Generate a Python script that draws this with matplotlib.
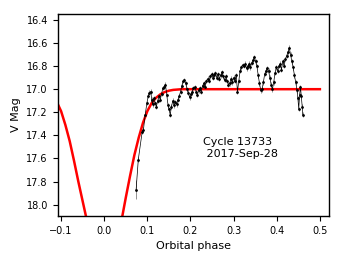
import matplotlib
matplotlib.use("Agg")
import matplotlib.pyplot as plt

# model light curve
model_phase = [-0.11, -0.10, -0.09, -0.08, -0.07, -0.06, -0.05, -0.04, -0.03, -0.02, -0.01,
               0.00, 0.01, 0.02, 0.03, 0.04, 0.05, 0.06, 0.07, 0.08, 0.09, 0.10, 0.11,
               0.12, 0.13, 0.14, 0.15, 0.16, 0.18, 0.50]
model_mag = [17.11, 17.19, 17.31, 17.45, 17.62, 17.80, 17.97, 18.14, 18.34, 18.48, 18.58,
             18.62, 18.58, 18.48, 18.34, 18.14, 17.94, 17.75, 17.57, 17.42, 17.29, 17.19, 17.12,
             17.075, 17.045, 17.025, 17.013, 17.006, 17.00, 17.00]

# observed magnitudes
obs_phase = [0.074, 0.079, 0.088, 0.091, 0.095, 0.099, 0.102, 0.105, 0.108, 0.110,
             0.112, 0.115, 0.118, 0.121, 0.124, 0.127, 0.130, 0.133, 0.136, 0.139,
             0.142, 0.145, 0.148, 0.150, 0.153, 0.156, 0.159, 0.162, 0.165, 0.168,
             0.171, 0.174, 0.177, 0.180, 0.183, 0.186, 0.189, 0.192, 0.195, 0.198,
             0.201, 0.204, 0.207, 0.210, 0.213, 0.216, 0.219, 0.222, 0.225, 0.228,
             0.231, 0.234, 0.237, 0.240, 0.243, 0.246, 0.249, 0.252, 0.255, 0.258,
             0.261, 0.264, 0.267, 0.270, 0.273, 0.276, 0.279, 0.282, 0.285, 0.288,
             0.291, 0.294, 0.297, 0.300, 0.303, 0.306, 0.309, 0.312, 0.315, 0.318,
             0.321, 0.324, 0.327, 0.330, 0.333, 0.336, 0.339, 0.342, 0.345, 0.348,
             0.351, 0.354, 0.357, 0.360, 0.363, 0.366, 0.369, 0.372, 0.375, 0.378,
             0.381, 0.384, 0.387, 0.390, 0.393, 0.396, 0.399, 0.402, 0.405, 0.408,
             0.411, 0.414, 0.417, 0.420, 0.423, 0.426, 0.429, 0.432, 0.435, 0.438,
             0.441, 0.444, 0.447, 0.449, 0.451, 0.453, 0.455, 0.457, 0.459, 0.460]
obs_mag = [17.87, 17.61, 17.37, 17.35, 17.22, 17.12, 17.06, 17.03, 17.02, 17.09,
           17.13, 17.08, 17.12, 17.15, 17.10, 17.06, 17.09, 17.04, 16.99, 16.98,
           16.96, 17.05, 17.14, 17.17, 17.22, 17.15, 17.10, 17.14, 17.11, 17.13,
           17.09, 17.06, 17.02, 16.97, 16.93, 16.92, 16.95, 17.00, 17.03, 17.07,
           17.04, 17.02, 16.99, 16.98, 17.02, 17.05, 17.01, 16.99, 17.02, 16.97,
           16.95, 16.98, 16.93, 16.91, 16.93, 16.89, 16.87, 16.90, 16.88, 16.86,
           16.90, 16.87, 16.91, 16.88, 16.85, 16.89, 16.92, 16.89, 16.93, 16.96,
           16.95, 16.91, 16.94, 16.90, 16.93, 16.88, 17.02, 16.93, 16.84, 16.81,
           16.79, 16.80, 16.78, 16.82, 16.80, 16.78, 16.81, 16.77, 16.75, 16.72,
           16.76, 16.80, 16.88, 16.95, 17.01, 17.00, 16.94, 16.87, 16.84, 16.82,
           16.84, 16.90, 16.96, 17.00, 16.94, 16.86, 16.81, 16.84, 16.80, 16.78,
           16.83, 16.76, 16.80, 16.74, 16.71, 16.68, 16.64, 16.70, 16.76, 16.81,
           16.88, 16.94, 17.01, 17.08, 17.17, 17.05, 16.98, 17.06, 17.15, 17.22]
obs_err = [0.08] + [0.02] * (len(obs_mag) - 1)

fig = plt.figure(figsize=(3.43, 2.63), dpi=100)
ax = fig.add_axes([0.168, 0.179, 0.791, 0.768])

ax.errorbar(obs_phase, obs_mag, yerr=obs_err, fmt='.-', color='black', ms=2,
            lw=0.5, elinewidth=0.5, ecolor='0.4')
ax.plot(model_phase, model_mag, color='red', lw=1.8)

ax.text(0.23, 17.51, "Cycle 13733\n 2017-Sep-28", fontsize=8, va='center', ha='left')

ax.set_xlim(-0.108, 0.521)
ax.set_ylim(18.098, 16.348)
ax.set_yticks([16.4, 16.6, 16.8, 17.0, 17.2, 17.4, 17.6, 17.8, 18.0])
ax.set_xlabel("Orbital phase", fontsize=8)
ax.set_ylabel("V Mag", fontsize=8)
ax.tick_params(labelsize=7)
for s in ax.spines.values():
    s.set_linewidth(1.0)

fig.savefig("out.png", dpi=100)
